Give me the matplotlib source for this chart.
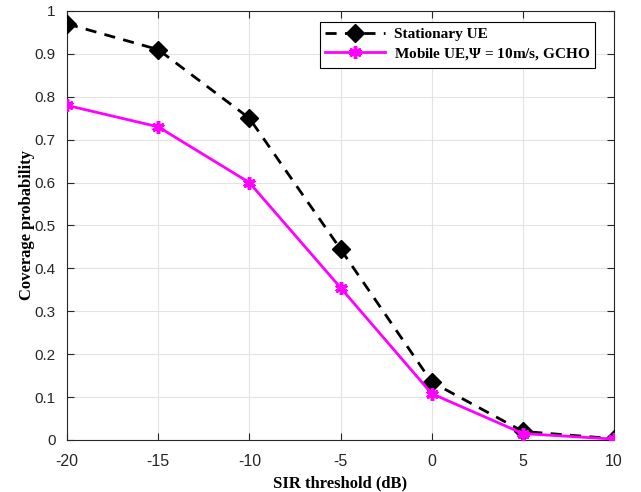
import numpy as np
import matplotlib
matplotlib.use('Agg')
import matplotlib.pyplot as plt

# Dữ liệu
sir_db = [-20, -15, -10, -5, 0, 5, 10]
cov_stationary = [0.97, 0.91, 0.75, 0.445, 0.135, 0.02, 0.003]
cov_mobile = [0.78, 0.73, 0.60, 0.355, 0.108, 0.015, 0.002]
x_ticks = [-20, -15, -10, -5, 0, 5, 10]
x_ticklabels = ['-20', '-15', '-10', '-5', '0', '5', '10']
y_ticks = [0, 0.1, 0.2, 0.3, 0.4, 0.5, 0.6, 0.7, 0.8, 0.9, 1]
y_ticklabels = ['0', '0.1', '0.2', '0.3', '0.4', '0.5', '0.6', '0.7', '0.8', '0.9', '1']

plt.rcParams['mathtext.fontset'] = 'custom'
plt.rcParams['mathtext.bf'] = 'Liberation Serif:bold'
plt.rcParams['mathtext.rm'] = 'Liberation Serif'

fig = plt.figure(figsize=(6.41, 4.92), dpi=100)
ax = fig.add_axes([0.1045, 0.1057, 0.8535, 0.872])

ax.plot(sir_db, cov_stationary, color='black', linestyle=(0, (4, 3)), linewidth=2,
        marker='D', markersize=9, label='Stationary UE', zorder=3)
ax.plot(sir_db, cov_mobile, color='#ff00ff', linestyle='-', linewidth=2,
        marker=(6, 2, 0), markersize=9, markeredgewidth=2.5,
        label=r'Mobile UE,$\mathbf{\Psi}$ = 10m/s, GCHO', zorder=4)

ax.set_xlim(-20, 10)
ax.set_ylim(0, 1)
ax.set_xticks(x_ticks)
ax.set_xticklabels(x_ticklabels)
ax.set_yticks(y_ticks)
ax.set_yticklabels(y_ticklabels)
ax.grid(True, color='#e3e3e3', linewidth=0.8)
ax.set_axisbelow(True)
ax.tick_params(direction='in', top=True, right=True, length=5, color='#262626',
               labelsize=11.5, labelcolor='#262626', pad=8)
ax.tick_params(axis='x', pad=10)
ax.tick_params(axis='y', labelsize=11)
for lab in ax.get_xticklabels() + ax.get_yticklabels():
    lab.set_fontfamily('Liberation Sans')
for sp in ax.spines.values():
    sp.set_color('#262626')
    sp.set_linewidth(0.8)

ax.set_xlabel('SIR threshold (dB)', fontfamily='Liberation Serif', fontweight='bold', fontsize=12,
              labelpad=5)
ax.set_ylabel('Coverage probability', fontfamily='Liberation Serif', fontweight='bold', fontsize=12,
              labelpad=0)

leg = ax.legend(loc='upper right', bbox_to_anchor=(0.966, 0.9745), borderaxespad=0,
                fancybox=False, edgecolor='black', framealpha=1, handlelength=3.9,
                borderpad=0.35, labelspacing=0.35, handletextpad=0.6,
                prop={'family': 'Liberation Serif', 'weight': 'bold', 'size': 11})
leg.get_frame().set_linewidth(0.8)

plt.savefig('out.png', dpi=100)
plt.close(fig)
